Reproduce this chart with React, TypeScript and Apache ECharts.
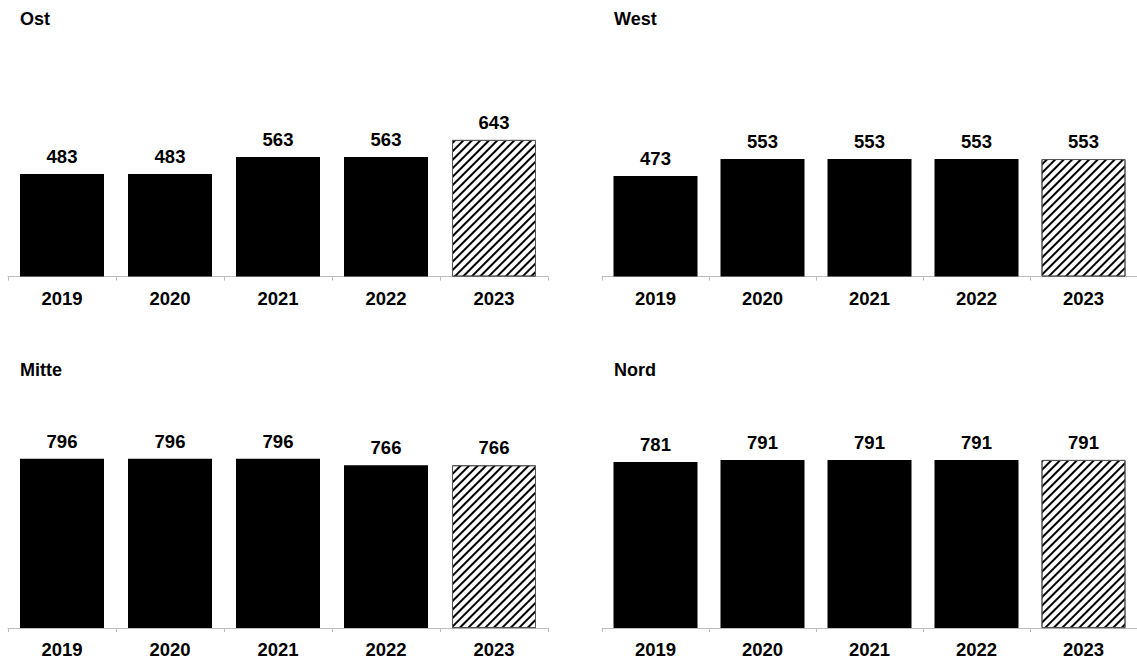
import React, { useEffect, useRef } from "react";
import * as echarts from "echarts";

const years = ["2019", "2020", "2021", "2022", "2023"];
const panelTitles = ["Ost", "West", "Mitte", "Nord"];
const ostValues = [483, 483, 563, 563, 643];
const westValues = [473, 553, 553, 553, 553];
const mitteValues = [796, 796, 796, 766, 766];
const nordValues = [781, 791, 791, 791, 791];
const forecastIndex = 4;

const FONT = "'Liberation Sans', Arial, Helvetica, sans-serif";

export default function App() {
  const ref = useRef<HTMLDivElement>(null);
  useEffect(() => {
    if (!ref.current) return;
    const chart = echarts.init(ref.current, null, { renderer: "svg" });
    const panels = [
      { values: ostValues, left: 8, top: 64, tx: 20, ty: 10 },
      { values: westValues, left: 602, top: 64, tx: 614, ty: 10 },
      { values: mitteValues, left: 8, top: 415.5, tx: 20, ty: 361 },
      { values: nordValues, left: 602, top: 415.5, tx: 614, ty: 361 },
    ];
    const hatch = {
      symbol: "rect",
      color: "#000",
      backgroundColor: "#fff",
      dashArrayX: [1, 0],
      dashArrayY: [2, 3.5],
      rotation: -Math.PI / 4,
      symbolSize: 1,
    };
    const option: any = {
      animation: false,
      title: panels.map((p, i) => ({
        text: panelTitles[i],
        left: p.tx,
        top: p.ty,
        padding: 0,
        textStyle: { fontFamily: FONT, fontSize: 18, fontWeight: "bold", color: "#000" },
      })),
      grid: panels.map((p) => ({ left: p.left, top: p.top, width: 540, height: 212.6 })),
      xAxis: panels.map((_, i) => ({
        type: "category",
        gridIndex: i,
        data: years,
        axisLine: { lineStyle: { color: "#bdbdbd", width: 1 } },
        axisTick: { show: true, length: 4, lineStyle: { color: "#bdbdbd" } },
        axisLabel: {
          fontFamily: FONT,
          fontSize: 18.5,
          fontWeight: "bold",
          color: "#000",
          margin: 12,
        },
      })),
      yAxis: panels.map((_, i) => ({
        type: "value",
        gridIndex: i,
        min: 0,
        max: 1000,
        show: false,
        splitLine: { show: false },
      })),
      series: panels.map((p, i) => ({
        type: "bar",
        xAxisIndex: i,
        yAxisIndex: i,
        barWidth: 84,
        data: p.values.map((v, j) =>
          j === forecastIndex
            ? {
                value: v,
                itemStyle: {
                  color: "#fff",
                  borderColor: "#555",
                  borderWidth: 1,
                  decal: hatch,
                },
              }
            : { value: v, itemStyle: { color: "#000" } }
        ),
        label: {
          show: true,
          position: "top",
          distance: 8,
          fontFamily: FONT,
          fontSize: 18.5,
          fontWeight: "bold",
          color: "#000",
        },
      })),
    };
    chart.setOption(option);
    return () => chart.dispose();
  }, []);
  return (
    <div
      ref={ref}
      style={{ position: "absolute", left: 0, top: 0, width: 1137, height: 661, background: "#fff" }}
    />
  );
}
